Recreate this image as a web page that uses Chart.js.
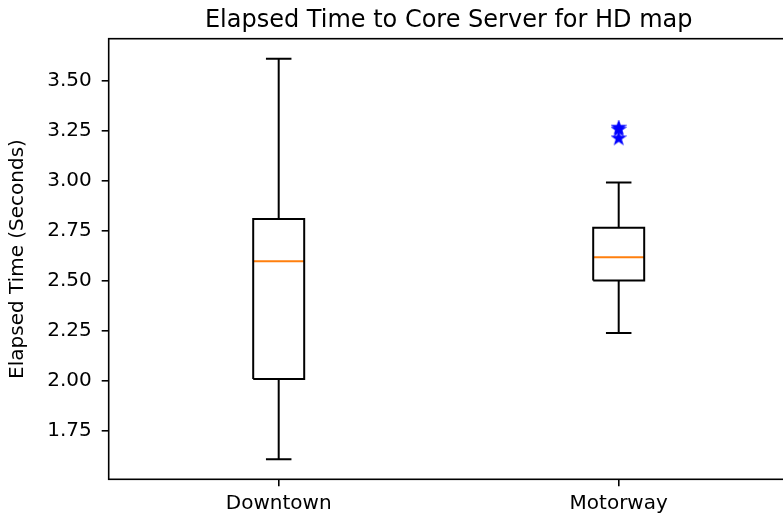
<!DOCTYPE html>
<html>
<head>
<meta charset="utf-8">
<script src="https://cdn.jsdelivr.net/npm/chart.js@4/dist/chart.umd.min.js"></script>
<style>
  html, body { margin: 0; padding: 0; background: #fff; }
  #wrap { width: 783px; height: 517px; overflow: hidden; position: relative; }
  #chart { display: block; }
</style>
</head>
<body>
<div id="wrap"><canvas id="chart" width="800" height="517"></canvas></div>
<script>
// Box-plot summary per category (seconds)
const categories  = ['Downtown', 'Motorway'];
const whiskerLow  = [1.605, 2.237];
const quartile1   = [2.007, 2.500];
const medians     = [2.596, 2.616];
const quartile3   = [2.808, 2.764];
const whiskerHigh = [3.610, 2.990];
const outliers    = [[], [3.265, 3.255, 3.211]];
const yTicks      = [1.75, 2.00, 2.25, 2.50, 2.75, 3.00, 3.25, 3.50];

const titleText  = 'Elapsed Time to Core Server for HD map';
const yAxisTitle = 'Elapsed Time (Seconds)';

const FONT = 'DejaVu Sans';
const BOX_W = 0.15;          // box width in category units
const CAP_W = BOX_W / 2;     // whisker cap width
const LW = 2;

// y range: data extent with 5% margin on each side
const allVals = whiskerLow.concat(whiskerHigh, ...outliers);
const dMin = Math.min(...allVals), dMax = Math.max(...allVals);
const margin = (dMax - dMin) * 0.05;
const yMin = dMin - margin, yMax = dMax + margin;

// filled star marker
function makeStar(color) {
  const c = document.createElement('canvas');
  const s = 16; c.width = s; c.height = s;
  const g = c.getContext('2d');
  const R = 6, r = R * 0.381966, cx = s / 2, cy = s / 2;
  g.beginPath();
  for (let i = 0; i < 10; i++) {
    const rad = i % 2 === 0 ? R : r;
    const a = -Math.PI / 2 + i * Math.PI / 5;
    const px = cx + rad * Math.cos(a), py = cy + rad * Math.sin(a);
    if (i === 0) g.moveTo(px, py); else g.lineTo(px, py);
  }
  g.closePath();
  g.fillStyle = color; g.fill();
  g.lineWidth = 1.6; g.strokeStyle = color; g.lineJoin = 'miter'; g.stroke();
  return c;
}
const star = makeStar('#0000ff');

function seg(points, color) {
  return {
    data: points, showLine: true, borderColor: color, borderWidth: LW,
    pointRadius: 0, pointHoverRadius: 0, fill: false, tension: 0,
    borderCapStyle: 'butt', borderJoinStyle: 'miter'
  };
}

const datasets = [];
categories.forEach((name, i) => {
  const p = i + 1;
  // whiskers
  datasets.push(seg([{x: p, y: quartile1[i]}, {x: p, y: whiskerLow[i]}], '#000'));
  datasets.push(seg([{x: p, y: quartile3[i]}, {x: p, y: whiskerHigh[i]}], '#000'));
  // caps
  datasets.push(seg([{x: p - CAP_W / 2, y: whiskerLow[i]}, {x: p + CAP_W / 2, y: whiskerLow[i]}], '#000'));
  datasets.push(seg([{x: p - CAP_W / 2, y: whiskerHigh[i]}, {x: p + CAP_W / 2, y: whiskerHigh[i]}], '#000'));
  // box
  datasets.push(seg([
    {x: p - BOX_W / 2, y: quartile1[i]}, {x: p + BOX_W / 2, y: quartile1[i]},
    {x: p + BOX_W / 2, y: quartile3[i]}, {x: p - BOX_W / 2, y: quartile3[i]},
    {x: p - BOX_W / 2, y: quartile1[i]}
  ], '#000'));
  // median
  datasets.push(seg([{x: p - BOX_W / 2, y: medians[i]}, {x: p + BOX_W / 2, y: medians[i]}], '#ff7f0e'));
  // fliers
  if (outliers[i].length) {
    datasets.push({
      data: outliers[i].map(v => ({x: p, y: v})), showLine: false,
      pointStyle: star, pointRadius: 6, pointHoverRadius: 6,
      backgroundColor: '#0000ff', borderColor: '#0000ff'
    });
  }
});

const frameAndTitle = {
  id: 'frameAndTitle',
  afterDraw(chart) {
    const {ctx, chartArea: a} = chart;
    ctx.save();
    ctx.strokeStyle = '#000';
    ctx.lineWidth = 1.6;
    ctx.strokeRect(a.left, a.top, a.right - a.left, a.bottom - a.top);
    ctx.fillStyle = '#000';
    ctx.font = '24px "' + FONT + '"';
    ctx.textAlign = 'center';
    ctx.textBaseline = 'alphabetic';
    ctx.fillText(titleText, (a.left + a.right) / 2, a.top - 12);
    ctx.restore();
  }
};

new Chart(document.getElementById('chart'), {
  type: 'scatter',
  data: { datasets },
  plugins: [frameAndTitle],
  options: {
    responsive: false,
    animation: false,
    devicePixelRatio: 1,
    layout: { padding: { top: 38.7, left: 0, right: 11.3, bottom: 0 } },
    plugins: { legend: { display: false }, tooltip: { enabled: false }, title: { display: false } },
    elements: { point: { hitRadius: 0 } },
    scales: {
      x: {
        type: 'linear', min: 0.5, max: 2.5,
        afterBuildTicks: s => { s.ticks = categories.map((_, i) => ({value: i + 1})); },
        afterFit: s => { s.height = 37.7; },
        border: { display: false },
        grid: { drawOnChartArea: false, drawTicks: true, tickLength: 7, color: '#000', lineWidth: 1.6 },
        ticks: {
          color: '#000', font: { family: FONT, size: 20 }, padding: 5.5, maxRotation: 0, autoSkip: false,
          callback: v => categories[Math.round(v) - 1]
        }
      },
      y: {
        type: 'linear', min: yMin, max: yMax,
        afterBuildTicks: s => { s.ticks = yTicks.map(v => ({value: v})); },
        afterFit: s => { s.width = 108.7; },
        border: { display: false },
        grid: { drawOnChartArea: false, drawTicks: true, tickLength: 7, color: '#000', lineWidth: 1.6 },
        ticks: {
          color: '#000', font: { family: FONT, size: 20 }, padding: 10, autoSkip: false,
          callback: v => Number(v).toFixed(2)
        },
        title: {
          display: true, text: yAxisTitle, color: '#000',
          font: { family: FONT, size: 20 }, padding: { top: 5.5, bottom: 0 }
        }
      }
    }
  }
});
</script>
</body>
</html>
